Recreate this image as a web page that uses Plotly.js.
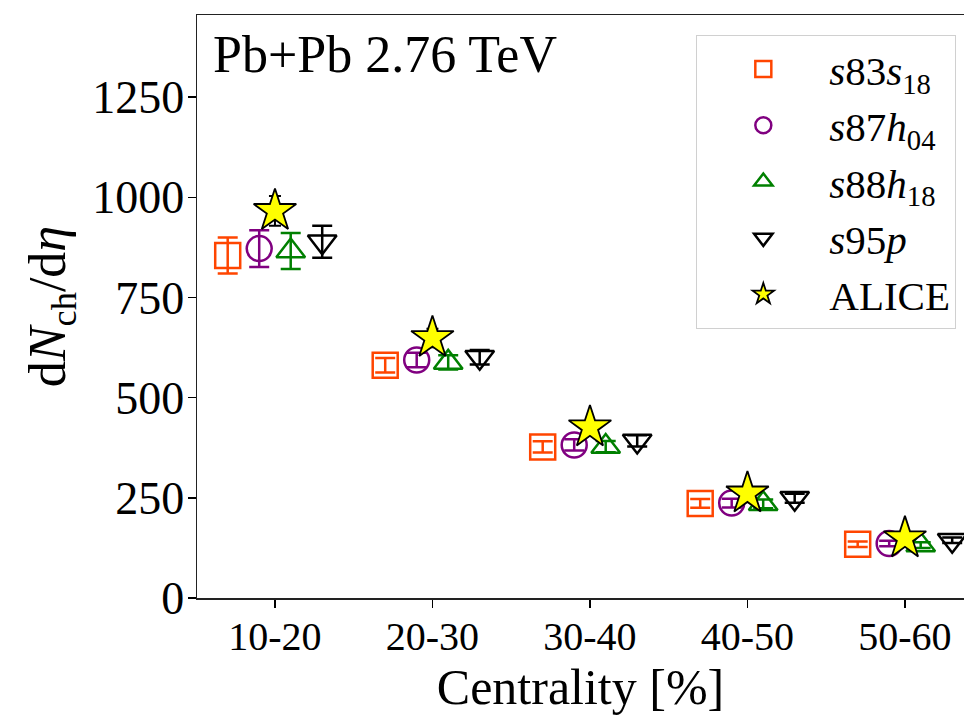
<!DOCTYPE html>
<html>
<head>
<meta charset="utf-8">
<script src="https://cdn.plot.ly/plotly-3.0.1.min.js"></script>
<style>html,body{margin:0;padding:0;background:#fff;}#plot{width:964px;height:715px;}</style>
</head>
<body>
<div id="plot"></div>
<script>
const categories = ["10-20", "20-30", "30-40", "40-50", "50-60"];
const s83s18 = [855, 581, 377, 236, 134];
const s83s18Err = [45, 18, 14, 11, 7];
const s87h04 = [872, 594, 382, 237, 136];
const s87h04Err = [46, 18, 14, 11, 7];
const s88h18 = [866, 588, 378, 235, 132];
const s88h18Err = [45, 18, 14, 11, 7];
const s95p = [889, 601, 392, 249, 144];
const s95pErr = [40, 18, 14, 11, 7];
const alice = [966, 649, 426, 261, 149];
const aliceErr = [37, 23, 15, 9, 6];

const idx = categories.map((c, i) => i);
function shifted(off) { return idx.map(i => i + off); }

const serif = "Liberation Serif, Times New Roman, serif";

function modelTrace(name, y, err, off, color, symbol) {
  return {
    type: "scatter", mode: "markers", name: name,
    x: shifted(off), y: y,
    error_y: {type: "data", array: err, visible: true, color: color, thickness: 2.5, width: 10},
    marker: {symbol: symbol, size: 25, color: color, line: {color: color, width: 2.5}},
    cliponaxis: false
  };
}

const traces = [
  modelTrace("<i>s</i>83<i>s</i><sub>18</sub>", s83s18, s83s18Err, -0.3, "#FF4500", "square-open"),
  modelTrace("<i>s</i>87<i>h</i><sub>04</sub>", s87h04, s87h04Err, -0.1, "#800080", "circle-open"),
  modelTrace("<i>s</i>88<i>h</i><sub>18</sub>", s88h18, s88h18Err, 0.1, "#008000", "triangle-up-open"),
  modelTrace("<i>s</i>95<i>p</i>", s95p, s95pErr, 0.3, "#000000", "triangle-down-open"),
  {
    type: "scatter", mode: "markers", name: "ALICE",
    x: shifted(0), y: alice,
    error_y: {type: "data", array: aliceErr, visible: true, color: "#000000", thickness: 2, width: 6},
    marker: {symbol: "star", size: 32, color: "#FFFF00", line: {color: "#000000", width: 1.8}},
    cliponaxis: false
  }
];

const layout = {
  width: 964, height: 715,
  margin: {l: 197, r: 0, t: 15, b: 117},
  paper_bgcolor: "#ffffff", plot_bgcolor: "#ffffff",
  showlegend: true,
  font: {family: serif, color: "#000000"},
  xaxis: {
    range: [-0.495, 4.375],
    tickvals: idx, ticktext: categories,
    ticks: "outside", ticklen: 8, tickwidth: 1.5, tickcolor: "#000",
    ticklabelstandoff: -6,
    showline: true, mirror: true, linecolor: "#222", linewidth: 1.5,
    showgrid: false, zeroline: false,
    tickfont: {family: serif, size: 40},
    title: {text: "Centrality [%]", font: {family: serif, size: 50}, standoff: 6}
  },
  yaxis: {
    range: [0, 1455],
    tickvals: [0, 250, 500, 750, 1000, 1250],
    ticks: "outside", ticklen: 8, tickwidth: 1.5, tickcolor: "#000",
    ticklabelstandoff: -6,
    showline: true, mirror: true, linecolor: "#222", linewidth: 1.5,
    showgrid: false, zeroline: false,
    tickfont: {family: serif, size: 46},
    title: {text: "d<i>N</i><sub>ch</sub>/d<i>η</i>", font: {family: serif, size: 52}, standoff: 10}
  },
  legend: {
    x: 0.651, y: 0.966, xanchor: "left", yanchor: "top",
    bgcolor: "rgba(255,255,255,0.8)", bordercolor: "#d0d0d0", borderwidth: 1,
    font: {family: serif, size: 41},
    itemwidth: 122
  },
  annotations: [{
    xref: "paper", yref: "paper", x: 0.018, y: 0.985, xanchor: "left", yanchor: "top",
    text: "Pb+Pb 2.76 TeV", showarrow: false,
    font: {family: serif, size: 52}
  }]
};

Plotly.newPlot("plot", traces, layout, {displayModeBar: false, staticPlot: true});
</script>
</body>
</html>
